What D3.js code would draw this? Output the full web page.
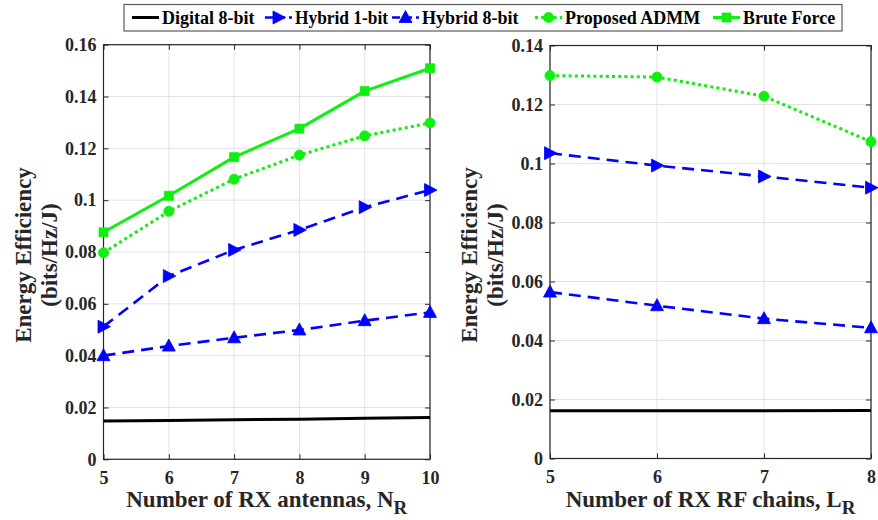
<!DOCTYPE html>
<html><head><meta charset="utf-8">
<script src="https://cdn.jsdelivr.net/npm/d3@7"></script>
<style>
html,body{margin:0;padding:0;background:#fff;}
svg{display:block;}
svg text{font-family:"Liberation Serif","Times New Roman",serif !important;font-weight:bold;}
</style></head>
<body><svg id="c" width="878" height="520"></svg>
<script>
// ---- data ----
const seriesNames = ["Digital 8-bit","Hybrid 1-bit","Hybrid 8-bit","Proposed ADMM","Brute Force"];
const xLeft = [5,6,7,8,9,10];
const digitalLeft = [0.0148,0.0150,0.0153,0.0155,0.0158,0.0161];
const hyb1Left    = [0.0512,0.0707,0.0808,0.0885,0.0973,0.1039];
const hyb8Left    = [0.0400,0.0437,0.0469,0.0499,0.0535,0.0567];
const admmLeft    = [0.0797,0.0957,0.1081,0.1174,0.1248,0.1298];
const bruteLeft   = [0.0876,0.1017,0.1166,0.1276,0.1421,0.1509];
const xRight = [5,6,7,8];
const digitalRight = [0.0162,0.0162,0.0162,0.0163];
const hyb1Right    = [0.1035,0.0993,0.0956,0.0918];
const hyb8Right    = [0.0564,0.0518,0.0474,0.0443];
const admmRight    = [0.1298,0.1293,0.1228,0.1074];
const yTicksLeft = [0,0.02,0.04,0.06,0.08,0.1,0.12,0.14,0.16];
const yTicksRight = [0,0.02,0.04,0.06,0.08,0.1,0.12,0.14];
const yLabel = ["Energy Efficiency","(bits/Hz/J)"];
const xLabelLeft = ["Number of RX antennas, N","R"];
const xLabelRight = ["Number of RX RF chains, L","R"];

// ---- styles ----
const styles = {
  "Digital 8-bit": {color:"#000000", dash:null, marker:null, width:3},
  "Hybrid 1-bit": {color:"#0000ff", dash:"12,7", marker:"tri-right", width:2.6},
  "Hybrid 8-bit": {color:"#0000ff", dash:"12,7", marker:"tri-up", width:2.6},
  "Proposed ADMM": {color:"#11ee11", dash:"3,3.2", marker:"circle", width:3},
  "Brute Force": {color:"#11ee11", dash:null, marker:"square", width:3}
};
const axisColor = "#262626", gridColor = "#e3e3e3";
const svg = d3.select("#c");
const fmt = d => d === 0 ? "0" : String(+d.toFixed(2));

function markerPath(type){
  if(type==="tri-right") return "M-5.5,-6.5L7,0L-5.5,6.5Z";
  if(type==="tri-up") return "M0,-7L6.5,5L-6.5,5Z";
  if(type==="circle") return d3.symbol(d3.symbolCircle, 80)();
  if(type==="square") return "M-4.5,-4.5H4.5V4.5H-4.5Z";
  return null;
}

function panel(opt){
  const {x0,x1,y0,y1,xDom,yDom,xTicks,yTicks,series,xLab,ylx} = opt;
  const x = d3.scaleLinear().domain(xDom).range([x0,x1]);
  const y = d3.scaleLinear().domain(yDom).range([y1,y0]);
  const g = svg.append("g");
  g.selectAll(".gx").data(xTicks).join("line")
    .attr("x1",d=>x(d)).attr("x2",d=>x(d)).attr("y1",y0).attr("y2",y1)
    .attr("stroke",gridColor).attr("stroke-width",1);
  g.selectAll(".gy").data(yTicks).join("line")
    .attr("x1",x0).attr("x2",x1).attr("y1",d=>y(d)).attr("y2",d=>y(d))
    .attr("stroke",gridColor).attr("stroke-width",1);
  const tl = 5;
  g.append("g").attr("transform",`translate(0,${y1})`)
    .call(d3.axisBottom(x).tickValues(xTicks).tickFormat(d3.format("d")).tickSizeInner(-tl).tickSizeOuter(0).tickPadding(12))
    .call(a=>{a.select(".domain").remove();
      a.selectAll("line").attr("stroke",axisColor);
      a.selectAll("text").attr("fill",axisColor).attr("font-size",18);});
  g.append("g").attr("transform",`translate(0,${y0})`)
    .call(d3.axisTop(x).tickValues(xTicks).tickFormat("").tickSizeInner(-tl).tickSizeOuter(0))
    .call(a=>{a.select(".domain").remove(); a.selectAll("line").attr("stroke",axisColor);});
  g.append("g").attr("transform",`translate(${x0},0)`)
    .call(d3.axisLeft(y).tickValues(yTicks).tickFormat(fmt).tickSizeInner(-tl).tickSizeOuter(0).tickPadding(7))
    .call(a=>{a.select(".domain").remove();
      a.selectAll("line").attr("stroke",axisColor);
      a.selectAll("text").attr("fill",axisColor).attr("font-size",18);});
  g.append("g").attr("transform",`translate(${x1},0)`)
    .call(d3.axisRight(y).tickValues(yTicks).tickFormat("").tickSizeInner(-tl).tickSizeOuter(0))
    .call(a=>{a.select(".domain").remove(); a.selectAll("line").attr("stroke",axisColor);});
  g.append("rect").attr("x",x0).attr("y",y0).attr("width",x1-x0).attr("height",y1-y0)
    .attr("fill","none").attr("stroke",axisColor).attr("stroke-width",1.2);
  series.forEach(s=>{
    const st = styles[s.name];
    const pts = s.xs.map((xv,i)=>[xv,s.ys[i]]);
    g.append("path").attr("d",d3.line().x(d=>x(d[0])).y(d=>y(d[1]))(pts))
      .attr("fill","none").attr("stroke",st.color).attr("stroke-width",st.width)
      .attr("stroke-dasharray",st.dash).attr("stroke-linejoin","round");
    if(st.marker){
      g.selectAll(null).data(pts).join("path")
        .attr("d",markerPath(st.marker))
        .attr("transform",d=>`translate(${x(d[0])},${y(d[1])})`)
        .attr("fill",st.color).attr("stroke",st.color).attr("stroke-width",0.8);
    }
  });
  const t = g.append("text").attr("x",(x0+x1)/2).attr("y",507).attr("text-anchor","middle")
    .attr("font-size",23).attr("fill",axisColor);
  t.append("tspan").text(xLab[0]);
  t.append("tspan").attr("dy",7).attr("font-size",19).text(xLab[1]);
  const yc = 255;
  yLabel.forEach((l,i)=>{
    g.append("text").attr("transform",`translate(${ylx[i]},${yc}) rotate(-90)`)
      .attr("text-anchor","middle").attr("font-size",23).attr("fill",axisColor).text(l);
  });
}

panel({x0:103.5,x1:430,y0:44.7,y1:459.3,xDom:[5,10],yDom:[0,0.16],xTicks:xLeft,yTicks:yTicksLeft,
  xLab:xLabelLeft, ylx:[31,57],
  series:[
    {name:"Digital 8-bit",xs:xLeft,ys:digitalLeft},
    {name:"Hybrid 1-bit",xs:xLeft,ys:hyb1Left},
    {name:"Hybrid 8-bit",xs:xLeft,ys:hyb8Left},
    {name:"Proposed ADMM",xs:xLeft,ys:admmLeft},
    {name:"Brute Force",xs:xLeft,ys:bruteLeft}
  ]});
panel({x0:550,x1:871,y0:45.5,y1:458.5,xDom:[5,8],yDom:[0,0.14],xTicks:xRight,yTicks:yTicksRight,
  xLab:xLabelRight, ylx:[477,503],
  series:[
    {name:"Digital 8-bit",xs:xRight,ys:digitalRight},
    {name:"Hybrid 1-bit",xs:xRight,ys:hyb1Right},
    {name:"Hybrid 8-bit",xs:xRight,ys:hyb8Right},
    {name:"Proposed ADMM",xs:xRight,ys:admmRight}
  ]});

// legend
const lg = svg.append("g");
lg.append("rect").attr("x",124).attr("y",4.5).attr("width",718).attr("height",26.5)
  .attr("fill","#fff").attr("stroke","#5a5a5a").attr("stroke-width",1.2);
const lx = [132,265,392,535,713];
const lend = [260,388,531,709,838];
seriesNames.forEach((n,i)=>{
  const st = styles[n]; const cy = 17.5;
  lg.append("line").attr("x1",lx[i]).attr("x2",lx[i]+27).attr("y1",cy).attr("y2",cy)
    .attr("stroke",st.color).attr("stroke-width",st.width).attr("stroke-dasharray",st.dash ? (st.marker==="circle"?"3,3.2":"8,4"):null);
  if(st.marker) lg.append("path").attr("d",markerPath(st.marker)).attr("transform",`translate(${lx[i]+13.5},${cy})`)
    .attr("fill",st.color).attr("stroke",st.color).attr("stroke-width",0.8);
  const tx = lg.append("text").attr("x",lx[i]+30).attr("y",cy+6).attr("font-size",18).attr("fill","#000").text(n);
  const avail = lend[i] - (lx[i]+30);
  const w = tx.node().getComputedTextLength();
  if(w > avail) tx.attr("textLength",avail).attr("lengthAdjust","spacingAndGlyphs");
});
</script></body></html>
